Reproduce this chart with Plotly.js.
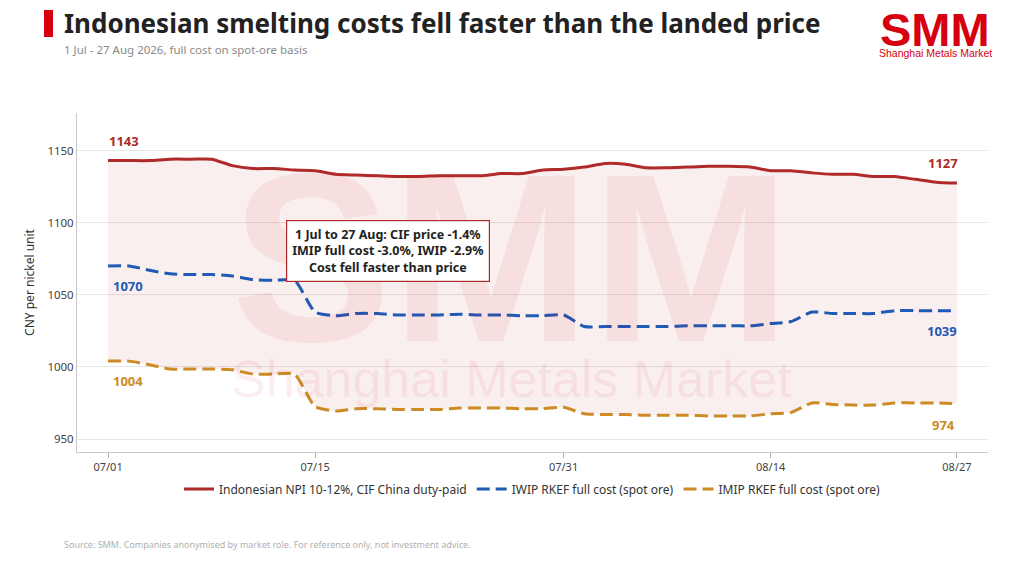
<!DOCTYPE html>
<html>
<head>
<meta charset="utf-8">
<script src="https://cdn.plot.ly/plotly-3.0.1.min.js"></script>
<style>
  html, body { margin: 0; padding: 0; background: #fff; }
  #chart { width: 1024px; height: 567px; }
</style>
</head>
<body>
<div id="chart"></div>
<script>
// trading days, 1 Jul - 27 Aug 2026
const days = [
  "07/01", "07/02", "07/03", "07/06", "07/07", "07/08", "07/09", "07/10", "07/13", "07/14",
  "07/15", "07/16", "07/17", "07/20", "07/21", "07/22", "07/23", "07/24", "07/27", "07/28",
  "07/29", "07/30", "07/31", "08/03", "08/04", "08/05", "08/06", "08/07", "08/10", "08/11",
  "08/12", "08/13", "08/14", "08/17", "08/18", "08/19", "08/20", "08/21", "08/24", "08/25",
  "08/26", "08/27"
];
const tickDays = ["07/01", "07/15", "07/31", "08/14", "08/27"];

// CNY per nickel unit
const cifPrice = [
  1143, 1143, 1143, 1144, 1144, 1144, 1139.5, 1137.5, 1137.5, 1136.5,
  1136, 1133.5, 1133, 1132.5, 1132, 1132, 1132.5, 1132.5, 1132.5, 1134,
  1134, 1136.5, 1137, 1138.5, 1141, 1140.5, 1138, 1138, 1138.5, 1139,
  1139, 1138.5, 1136, 1136, 1134.5, 1133.5, 1133.5, 1132, 1132, 1130,
  1128, 1127.4
];
const iwipCost = [
  1070, 1070, 1067, 1064.5, 1064, 1064, 1063, 1060.5, 1060, 1060,
  1038, 1035.5, 1037, 1037, 1036, 1036, 1036, 1036.5, 1036, 1036,
  1035.5, 1035.5, 1036, 1028, 1028, 1028, 1028, 1028, 1028.5, 1028.5,
  1028.5, 1028.5, 1030, 1031.5, 1038, 1037, 1037, 1037, 1039, 1039,
  1039, 1039
];
const imipCost = [
  1004, 1004, 1001.5, 998.5, 998.5, 998.5, 998, 995, 995, 995,
  972.5, 969.5, 971, 971, 970.5, 970.5, 970.5, 971.5, 971.5, 971.5,
  971, 971, 972, 967.5, 967, 967, 966.5, 966.5, 966.5, 966,
  966, 966, 967.5, 968.5, 975, 974, 973.5, 973.5, 975, 975,
  975, 974.4
];

const seriesNames = [
  "Indonesian NPI 10-12%, CIF China duty-paid",
  "IWIP RKEF full cost (spot ore)",
  "IMIP RKEF full cost (spot ore)"
];

const RED = "#B02A2A";
const BLUE = "#1F5AB5";
const GOLD = "#CC8B24";
const FONT = "Noto Sans, Lato, sans-serif";
const LOGO_FONT = "Liberation Sans, Arial, sans-serif";

// pixel helpers for paper positions (plot area 77..988 x 113..452)
const px = x => (x - 77) / 911;
const py = y => (452 - y) / 339;

const smooth = { shape: "spline", smoothing: 0.6 };

const traces = [
  // shaded band between IMIP cost and CIF price
  {
    x: days, y: imipCost, type: "scatter", mode: "lines",
    line: Object.assign({ width: 0, color: "rgba(0,0,0,0)" }, smooth),
    showlegend: false, hoverinfo: "skip"
  },
  {
    x: days, y: cifPrice, type: "scatter", mode: "lines", fill: "tonexty",
    fillcolor: "rgba(178,34,34,0.07)",
    line: Object.assign({ width: 0, color: "rgba(0,0,0,0)" }, smooth),
    showlegend: false, hoverinfo: "skip"
  },
  {
    x: days, y: cifPrice, name: seriesNames[0], type: "scatter", mode: "lines",
    line: Object.assign({ width: 3, color: RED }, smooth)
  },
  {
    x: days, y: iwipCost, name: seriesNames[1], type: "scatter", mode: "lines",
    line: Object.assign({ width: 3, color: BLUE, dash: "13px,6px" }, smooth)
  },
  {
    x: days, y: imipCost, name: seriesNames[2], type: "scatter", mode: "lines",
    line: Object.assign({ width: 3, color: GOLD, dash: "13px,6px" }, smooth)
  }
];

const last = days.length - 1;
const endLabel = (series, i, color, xs, ys) => ({
  x: days[i], y: series[i], xref: "x", yref: "y",
  text: "<b>" + Math.round(series[i]) + "</b>", showarrow: false,
  xshift: xs, yshift: ys, font: { family: FONT, size: 13, color: color }
});

const annotations = [
  // watermark
  {
    xref: "paper", yref: "paper", x: px(511), y: py(258), text: "<b>SMM</b>",
    showarrow: false, font: { family: LOGO_FONT, size: 240, color: "rgba(215,0,15,0.07)" }
  },
  {
    xref: "paper", yref: "paper", x: px(511), y: py(410), text: "Shanghai Metals Market",
    showarrow: false, font: { family: LOGO_FONT, size: 52, color: "rgba(215,0,15,0.065)" }
  },
  // title block
  {
    xref: "paper", yref: "paper", x: px(62), y: py(23), xanchor: "left", yanchor: "middle",
    text: "<b>Indonesian smelting costs fell faster than the landed price</b>", showarrow: false,
    font: { family: FONT, size: 26, color: "#222" }
  },
  {
    xref: "paper", yref: "paper", x: px(62), y: py(49), xanchor: "left", yanchor: "middle",
    text: "1 Jul - 27 Aug 2026, full cost on spot-ore basis", showarrow: false,
    font: { family: FONT, size: 11.5, color: "#8a8a8a" }
  },
  // logo
  {
    xref: "paper", yref: "paper", x: px(935), y: py(29), xanchor: "center", yanchor: "middle",
    text: "<b>SMM</b>", showarrow: false,
    font: { family: LOGO_FONT, size: 47, color: "#D7000F" }
  },
  {
    xref: "paper", yref: "paper", x: px(935), y: py(53), xanchor: "center", yanchor: "middle",
    text: "Shanghai Metals Market", showarrow: false,
    font: { family: LOGO_FONT, size: 10.5, color: "#D7000F" }
  },
  // callout
  {
    x: 13.5, y: 1080, xref: "x", yref: "y", showarrow: false,
    text: "<b>1 Jul to 27 Aug: CIF price -1.4%<br>IMIP full cost -3.0%, IWIP -2.9%<br>Cost fell faster than price</b>",
    font: { family: FONT, size: 12.5, color: "#222" },
    bgcolor: "#fff", bordercolor: RED, borderwidth: 1.2, borderpad: 5
  },
  // end labels
  endLabel(cifPrice, 0, RED, 16, 20),
  endLabel(iwipCost, 0, BLUE, 20, -20),
  endLabel(imipCost, 0, GOLD, 20, -20),
  endLabel(cifPrice, last, RED, -14, 20),
  endLabel(iwipCost, last, BLUE, -15, -20),
  endLabel(imipCost, last, GOLD, -13, -21),
  // footer
  {
    xref: "paper", yref: "paper", x: px(62), y: py(544), xanchor: "left", yanchor: "middle",
    text: "Source: SMM. Companies anonymised by market role. For reference only, not investment advice.",
    showarrow: false, font: { family: FONT, size: 9, color: "#b0b0b0" }
  }
];

const layout = {
  width: 1024,
  height: 567,
  margin: { l: 77, r: 36, t: 113, b: 115 },
  paper_bgcolor: "#fff",
  plot_bgcolor: "#fff",
  font: { family: FONT, size: 12, color: "#444" },
  showlegend: true,
  legend: {
    orientation: "h", x: 0.5, xanchor: "center", y: py(489), yanchor: "middle",
    font: { family: FONT, size: 12, color: "#333" }, traceorder: "normal"
  },
  xaxis: {
    type: "category",
    range: [-1.5, 42.5],
    tickmode: "array",
    tickvals: tickDays,
    ticktext: tickDays,
    ticks: "outside", ticklen: 5, tickcolor: "#aaa",
    showline: true, linecolor: "#c8c8c8", linewidth: 1,
    showgrid: false, zeroline: false,
    tickfont: { family: FONT, size: 11, color: "#444" },
    automargin: false
  },
  yaxis: {
    range: [941, 1176],
    tickvals: [950, 1000, 1050, 1100, 1150],
    showline: true, linecolor: "#c8c8c8", linewidth: 1,
    gridcolor: "#e6e6e6", zeroline: false, ticks: "",
    tickfont: { family: FONT, size: 11.5, color: "#444" },
    title: { text: "CNY per nickel unit", font: { family: FONT, size: 12, color: "#333" }, standoff: 10 },
    automargin: false
  },
  shapes: [
    {
      type: "rect", xref: "paper", yref: "paper",
      x0: px(44), x1: px(53), y0: py(37), y1: py(10),
      fillcolor: "#D7000F", line: { width: 0 }
    }
  ],
  annotations: annotations
};

Plotly.newPlot("chart", traces, layout, { displayModeBar: false, staticPlot: true });
</script>
</body>
</html>
